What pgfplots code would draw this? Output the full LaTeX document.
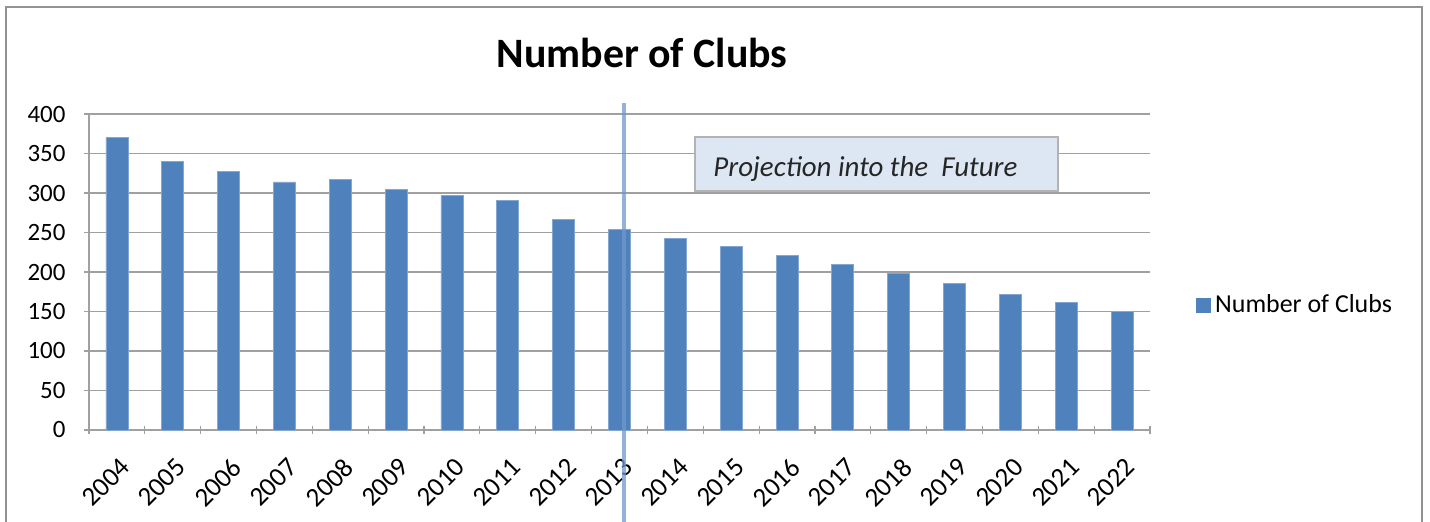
\documentclass[border=0pt]{standalone}
\usepackage{pgfplots}
\pgfplotsset{compat=1.18}
\usepackage{fontspec}
\setmainfont{Carlito}
\definecolor{barblue}{RGB}{79,129,189}
\definecolor{gridgray}{RGB}{160,160,160}
\definecolor{boxfill}{RGB}{221,231,244}
\definecolor{linecol}{RGB}{110,152,204}
\begin{document}
\begin{tikzpicture}
\path[use as bounding box] (0,0) rectangle (715bp,261bp);
\begin{axis}[
  at={(44.5bp,46bp)}, anchor=south west,
  scale only axis, width=530.5bp, height=158bp,
  clip=false,
  ybar, bar width=11bp,
  xmin=-0.5, xmax=18.5, ymin=0, ymax=400,
  ytick={0,50,...,400},
  xtick={0,...,18},
  xticklabels={2004,2005,2006,2007,2008,2009,2010,2011,2012,2013,2014,2015,2016,2017,2018,2019,2020,2021,2022},
  minor xtick={-0.5,0.5,...,18.5},
  major x tick style={draw=none},
  minor tick length=4bp, major tick length=4.5bp,
  tick align=outside,
  axis x line=bottom, axis y line=left,
  axis line style={gridgray, line width=0.6bp, -},
  every tick/.style={gridgray, line width=0.6bp},
  ymajorgrids, grid style={gridgray, line width=0.6bp},
  /pgf/number format/assume math mode=true,
  tick label style={font=\fontsize{12.5}{14}\selectfont, text=black},
  yticklabel style={xshift=-6bp},
  xticklabel style={font=\fontsize{13.5}{15}\selectfont, rotate=45, anchor=north east, inner sep=0.5bp, yshift=-8bp, xshift=-6.5bp},
  legend style={at={(1.0377,0.3956)}, anchor=west, draw=none, fill=none, font=\fontsize{13}{15}\selectfont},
  legend image code/.code={\fill[barblue] (0bp,-3.5bp) rectangle (7bp,3.5bp);},
]
\addplot[fill=barblue, draw=barblue!70!white, line width=0.4bp] coordinates {
(0,370) (1,340) (2,327) (3,314) (4,317) (5,304) (6,297) (7,291) (8,266) (9,254)
(10,242) (11,232) (12,221) (13,210) (14,198) (15,185) (16,172) (17,161) (18,150)};
\addlegendentry{Number of Clubs}
\end{axis}
% frame
\draw[gray!85, line width=1bp] (2.75bp,-5bp) -- (2.75bp,257.5bp) -- (711bp,257.5bp) -- (711bp,-5bp);
% title
\node[font=\bfseries\fontsize{21}{25}\selectfont] at (321bp,234.5bp) {Number of Clubs};
% projection box
\draw[gridgray!80, fill=boxfill, line width=0.8bp] (347.5bp,192.5bp) rectangle (529bp,165.5bp);
\node[anchor=base west, inner sep=0pt, font=\itshape\fontsize{14.5}{17}\selectfont, text=black!85] at (356.5bp,172.5bp) {Projection into the\ \ Future};
% divider line
\draw[linecol, opacity=0.75, line width=2.2bp] (312bp,209.5bp) -- (312bp,-2bp);
\end{tikzpicture}
\end{document}
